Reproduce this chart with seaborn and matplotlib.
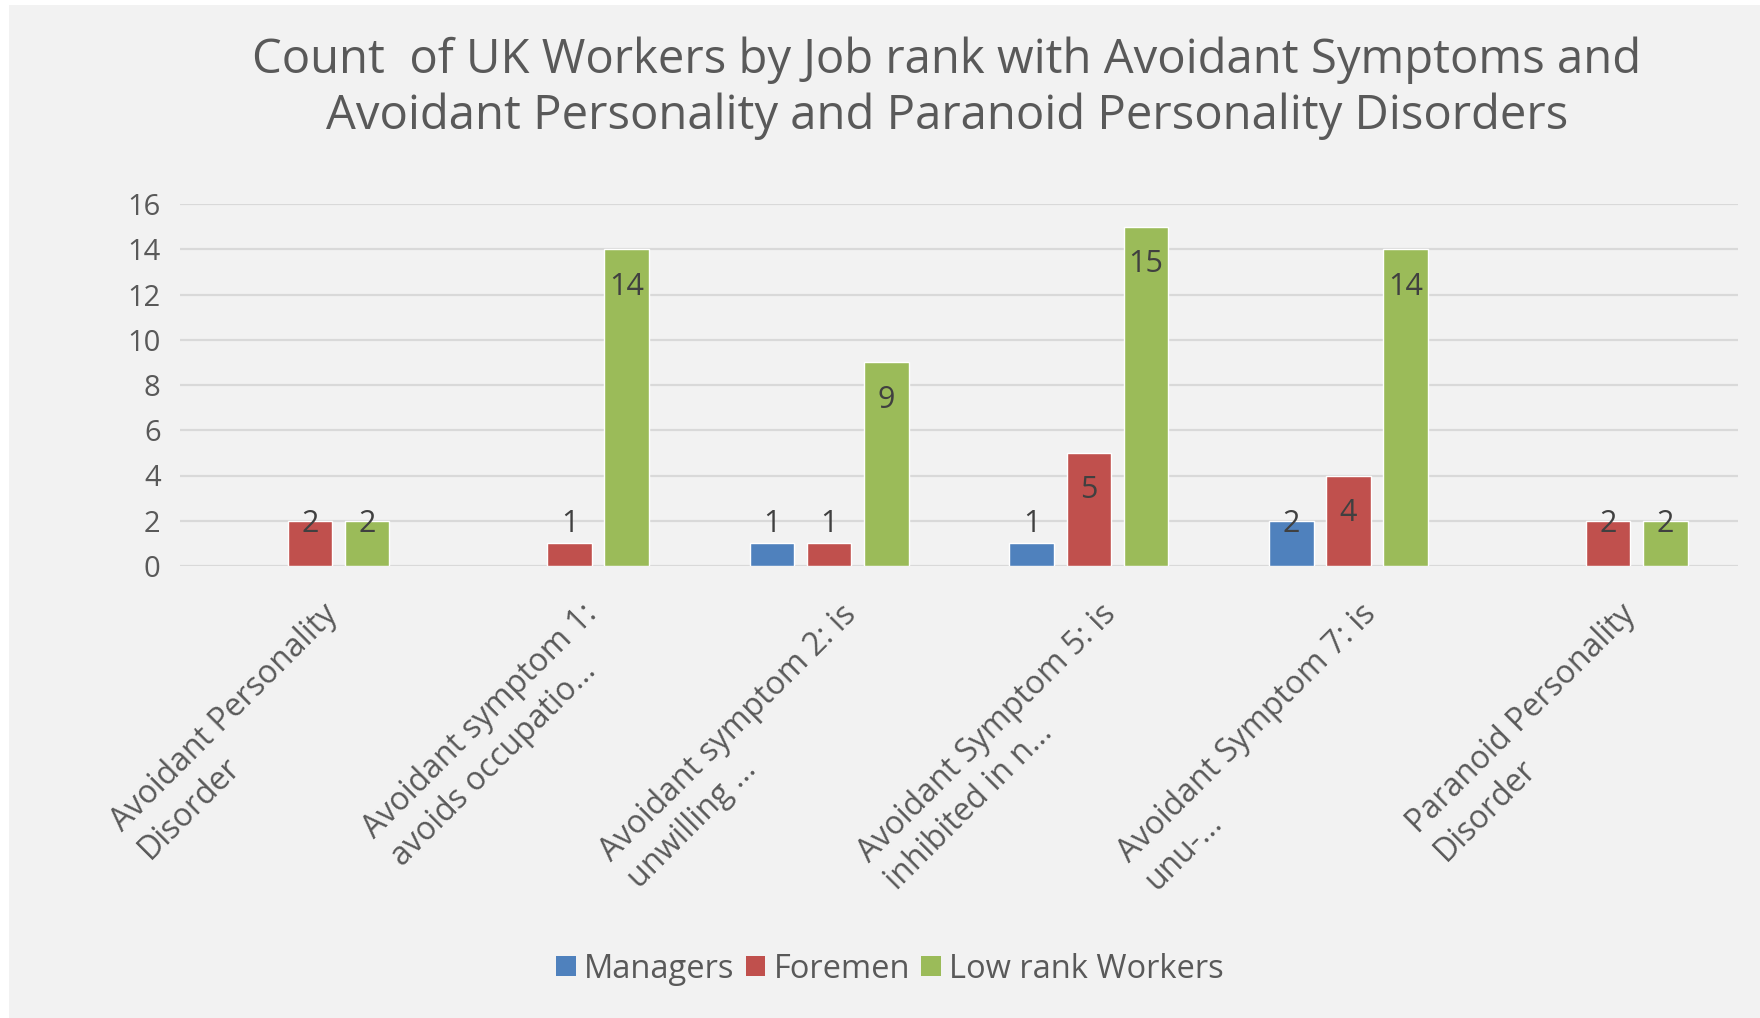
import matplotlib
matplotlib.use("Agg")
import matplotlib.pyplot as plt
import seaborn as sns
import pandas as pd
import numpy as np
from matplotlib.transforms import offset_copy
from matplotlib.patches import Rectangle

# ---- data ----
categories = [
    "Avoidant Personality\nDisorder",
    "Avoidant symptom 1:\navoids occupatio...",
    "Avoidant symptom 2: is\nunwilling ...",
    "Avoidant Symptom 5: is\ninhibited in n...",
    "Avoidant Symptom 7: is\nunu-...",
    "Paranoid Personality\nDisorder",
]
managers = [None, None, 1, 1, 2, None]
foremen = [2, 1, 1, 5, 4, 2]
low_rank_workers = [2, 14, 9, 15, 14, 2]
series_names = ["Managers", "Foremen", "Low rank Workers"]
series_colors = ["#4F81BD", "#C0504D", "#9BBB59"]
y_ticks = [0, 2, 4, 6, 8, 10, 12, 14, 16]
title = "Count  of UK Workers by Job rank with Avoidant Symptoms and\nAvoidant Personality and Paranoid Personality Disorders"

rows = []
for name, vals in zip(series_names, [managers, foremen, low_rank_workers]):
    for cat, v in zip(categories, vals):
        rows.append({"category": cat, "series": name,
                     "count": np.nan if v is None else v})
df = pd.DataFrame(rows)

sns.set_theme(style="white")
plt.rcParams["font.family"] = ["Open Sans", "DejaVu Sans"]

BG = "#F2F2F2"
TXT = "#595959"

fig = plt.figure(figsize=(17.6, 10.18), dpi=100, facecolor=BG)
# white edges as in the screenshot
fig.patches.append(Rectangle((0, 0), 9 / 1760, 1, transform=fig.transFigure,
                             facecolor="white", edgecolor="none", zorder=-1))
fig.patches.append(Rectangle((0, 1 - 5 / 1018), 1, 5 / 1018, transform=fig.transFigure,
                             facecolor="white", edgecolor="none", zorder=-1))

ax = fig.add_axes([180 / 1760, 1 - 566 / 1018, (1738 - 180) / 1760, (566 - 204) / 1018])
ax.set_facecolor(BG)

sns.barplot(data=df, x="category", y="count", hue="series", order=categories,
            hue_order=series_names, palette=series_colors, width=0.66, gap=0.22,
            errorbar=None, saturation=1, ax=ax, zorder=3)

ax.set_ylim(0, 16)
ax.set_xlim(-0.5, len(categories) - 0.5)
ax.set_yticks(y_ticks)
ax.set_yticklabels([str(t) for t in y_ticks], fontsize=21, color=TXT)
ax.tick_params(axis="y", length=0, pad=14)
ax.grid(axis="y", color="#D9D9D9", linewidth=1.6, zorder=0)
ax.set_axisbelow(True)
for s in ax.spines.values():
    s.set_visible(False)
ax.set_xlabel("")
ax.set_ylabel("")

# x tick labels drawn rotated, anchored at each category
ax.set_xticks(range(len(categories)))
ax.set_xticklabels([""] * len(categories))
ax.tick_params(axis="x", length=0)
xtrans = offset_copy(ax.get_xaxis_transform(), fig=fig, x=11, y=-32, units="dots")
for i, cat in enumerate(categories):
    ax.text(i, 0, cat, transform=xtrans, rotation=45, ha="right", va="top",
            rotation_mode="anchor", multialignment="left",
            fontsize=23, color=TXT, linespacing=1.25)

# data labels
for cont in ax.containers:
    for bar in cont:
        h = bar.get_height()
        if h is None or np.isnan(h) or h == 0:
            continue
        xc = bar.get_x() + bar.get_width() / 2
        ax.annotate(f"{int(h)}", xy=(xc, max(h, 3.5)), xytext=(0, -27),
                    textcoords="offset points", ha="center", va="center",
                    fontsize=22, color="#404040", zorder=5)

# legend
leg = ax.get_legend()
if leg is not None:
    leg.remove()
handles = [Rectangle((0, 0), 1, 1, facecolor=c, edgecolor="none") for c in series_colors]
fig.legend(handles, series_names, loc="center", bbox_to_anchor=(890 / 1760, 1 - 969 / 1018),
           ncol=3, frameon=False, fontsize=23.5, handlelength=0.6, handleheight=0.6,
           columnspacing=0.35, handletextpad=0.25, labelcolor=TXT)

fig.text(947 / 1760, 1 - 88 / 1018, title, ha="center", va="center", fontsize=34,
         color=TXT, linespacing=1.22)

fig.savefig("out.png", dpi=100, facecolor=BG)
